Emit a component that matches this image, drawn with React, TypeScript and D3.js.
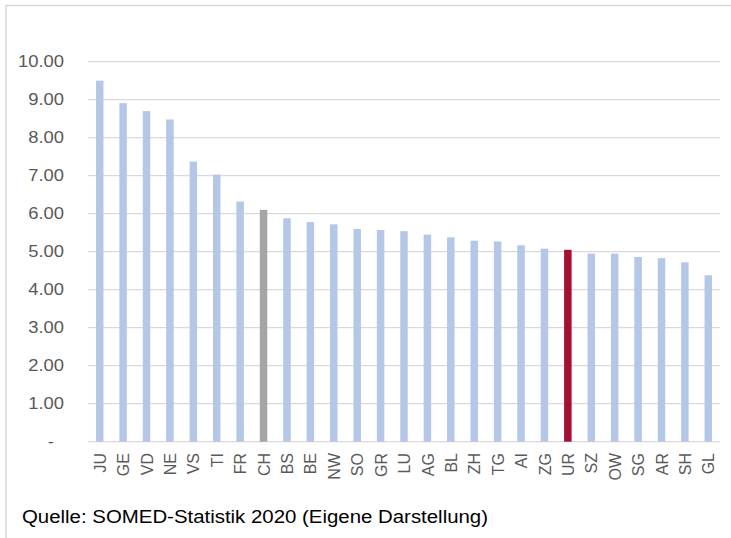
import React from "react";
import * as d3 from "d3";

const categories = ["JU","GE","VD","NE","VS","TI","FR","CH","BS","BE","NW","SO","GR","LU","AG","BL","ZH","TG","AI","ZG","UR","SZ","OW","SG","AR","SH","GL"];
const values = [9.5,8.91,8.7,8.48,7.37,7.03,6.32,6.1,5.88,5.78,5.72,5.6,5.57,5.54,5.45,5.38,5.29,5.27,5.17,5.08,5.05,4.95,4.95,4.86,4.83,4.72,4.38];
const yTicks = [0,1,2,3,4,5,6,7,8,9,10];
const highlight: Record<string, string> = { CH: "#a5a5a5", UR: "#a50f33" };
const caption = "Quelle: SOMED-Statistik 2020 (Eigene Darstellung)";

export default function App() {
  const W = 731, H = 538;
  const left = 88, right = 720, top = 61.7, bottom = 441.7;
  const x = d3.scaleBand<string>().domain(categories).range([left, right]).paddingInner(0.68).paddingOuter(0.34);
  const y = d3.scaleLinear().domain([0, 10]).range([bottom, top]);
  const font = "Liberation Sans, Arial, sans-serif";
  const fmt = (v: number) => (v === 0 ? "-" : d3.format(".2f")(v));
  return (
    <svg width={W} height={H} style={{ position: "absolute", left: 0, top: 0, background: "#fff" }} fontFamily={font}>
      <line x1={5} x2={W} y1={5.5} y2={5.5} stroke="#d9d9d9" strokeWidth={1.5} />
      <line x1={6} x2={6} y1={5} y2={H} stroke="#d9d9d9" strokeWidth={1.5} />
      {yTicks.map((t) => (
        <g key={t}>
          <line x1={left} x2={right} y1={y(t)} y2={y(t)} stroke="#d9d9d9" strokeWidth={1.3} />
          <text
            x={t === 0 ? 54 : 64}
            y={y(t)}
            dy="0.36em"
            textAnchor="end"
            fontSize={16}
            fill="#595959"
            transform={`translate(${t === 0 ? 54 : 64},0) scale(1.15,1) translate(${-(t === 0 ? 54 : 64)},0)`}
          >
            {fmt(t)}
          </text>
        </g>
      ))}
      {categories.map((c, i) => (
        <rect
          key={c}
          x={x(c)!}
          y={y(values[i])}
          width={x.bandwidth()}
          height={y(0) - y(values[i])}
          fill={highlight[c] ?? "#b4c7e7"}
        />
      ))}
      {categories.map((c) => {
        const cx = x(c)! + x.bandwidth() / 2;
        return (
          <text
            key={c}
            transform={`translate(${cx + 0.5},453) rotate(-90)`}
            textAnchor="end"
            dy="0.35em"
            fontSize={16}
            fill="#595959"
          >
            {c}
          </text>
        );
      })}
      <text x={22} y={523} fontSize={17.5} fill="#000" textLength={466} lengthAdjust="spacingAndGlyphs">
        {caption}
      </text>
    </svg>
  );
}
